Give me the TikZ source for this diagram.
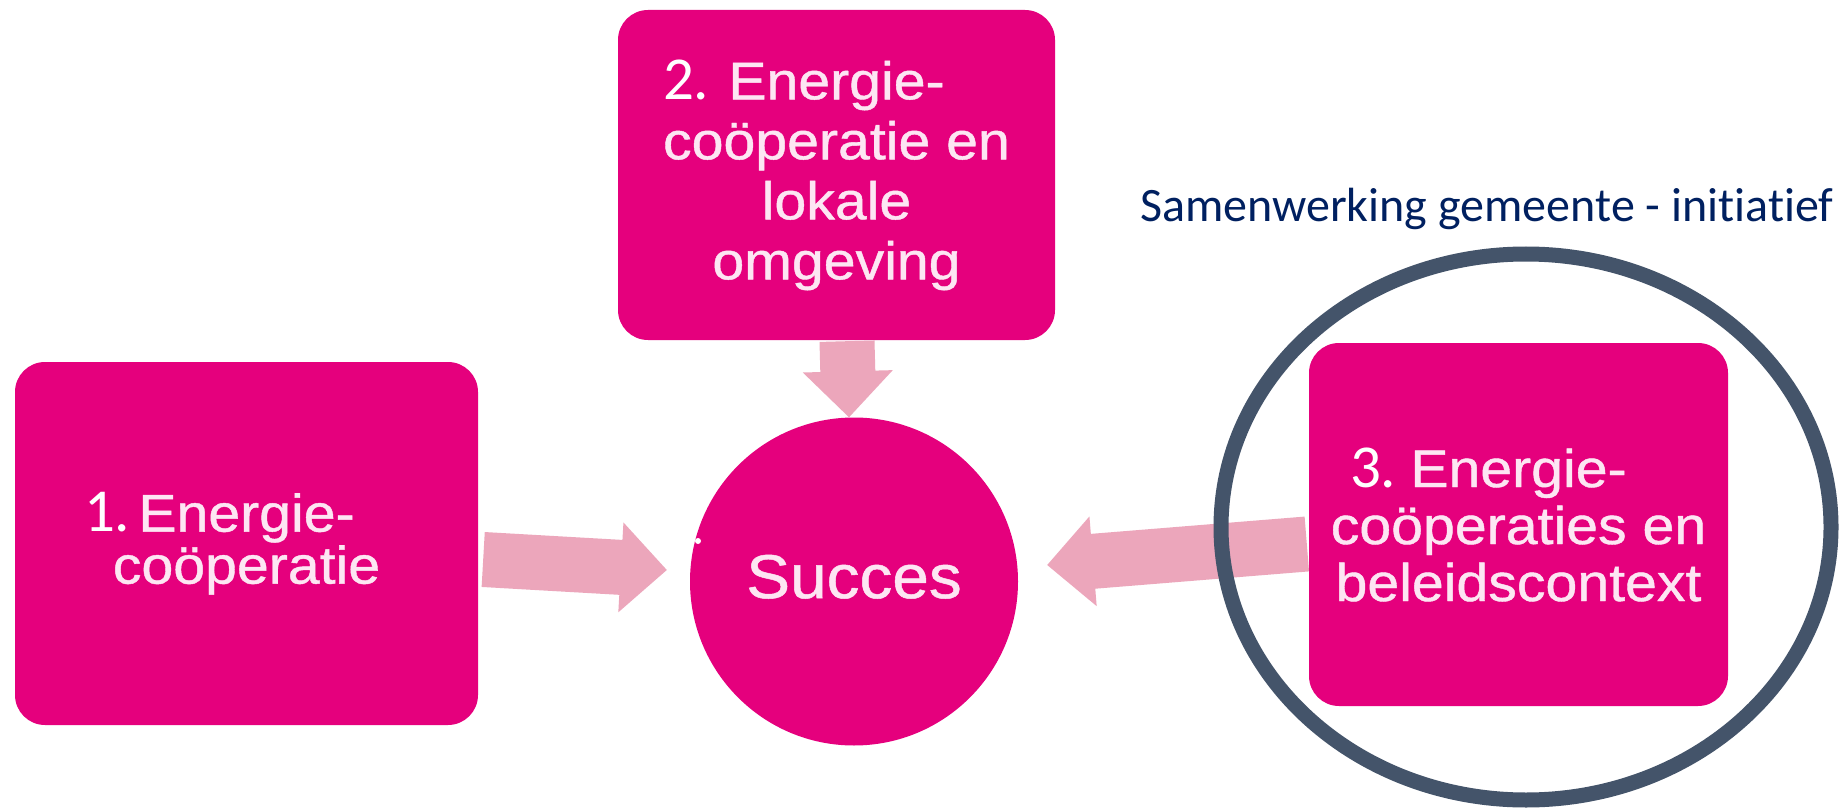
\documentclass[tikz,border=0pt]{standalone}
\usepackage{fontspec}
\usetikzlibrary{calc,shapes.geometric}
\newfontfamily\arialtxt[FakeStretch=1.08,FakeBold=0.8]{Liberation Sans}
\newfontfamily\arialsuc[FakeStretch=1.06,FakeBold=0.8]{Liberation Sans}
\newfontfamily\calib[Ligatures=NoCommon]{Carlito}
\definecolor{boxpink}{RGB}{229,0,125}
\definecolor{arrowpink}{RGB}{236,166,187}
\definecolor{txtpink}{RGB}{253,230,243}
\definecolor{ringgray}{RGB}{68,84,106}
\definecolor{navyblue}{RGB}{0,32,96}
\newcommand{\numlab}[2]{\llap{{\calib\fontsize{61}{50}\selectfont\color{white}#1}\hspace{#2}}}
\newcommand{\blockarrow}[2]{%
  \coordinate (#1h) at ($(#2)!46pt!(#1)$);
  \fill[arrowpink] ($(#1)!27.5pt!90:(#2)$) -- ($(#1h)!27.5pt!90:(#2)$) -- ($(#1h)!45pt!90:(#2)$) -- (#2)
    -- ($(#1h)!45pt!-90:(#2)$) -- ($(#1h)!27.5pt!-90:(#2)$) -- ($(#1)!27.5pt!-90:(#2)$) -- cycle;}
\begin{document}
\begin{tikzpicture}[x=1pt,y=-1pt,
  boxnode/.style={fill=boxpink, rounded corners=30pt, inner sep=0pt, text=txtpink, align=center},
  ringnode/.style={ellipse, draw=ringgray, line width=15pt, inner sep=0pt}]
\fill[white] (0,0) rectangle (1842,810);
\useasboundingbox (0,0) rectangle (1842,810);

\node[boxnode, minimum width=463pt, minimum height=363pt, font=\arialtxt\fontsize{53}{52}\selectfont] (b1) at (246.5,543.5)
  {\numlab{1.}{8pt}Energie-\\coöperatie};
\node[boxnode, minimum width=437pt, minimum height=330pt, font=\arialtxt\fontsize{53}{60}\selectfont] (b2) at (836.5,175)
  {\numlab{2.}{19pt}Energie-\\coöperatie en\\lokale\\omgeving};
\node[boxnode, minimum width=419pt, minimum height=363pt, font=\arialtxt\fontsize{53}{57}\selectfont] (b3) at (1518.5,524.5)
  {\numlab{3.}{14pt}Energie-\\coöperaties en\\beleidscontext};
\node[circle, fill=boxpink, minimum size=328pt, inner sep=0pt, text=txtpink, text depth=10pt,
  font=\arialsuc\fontsize{62}{62}\selectfont] (suc) at (854,581.5) {Succes};

\coordinate (a1s) at ($(b1.east)+(5,16)$);
\coordinate (a1e) at ($(suc.west)+(-23,-11.5)$);
\coordinate (a2s) at ($(b2.south)+(10.5,1)$);
\coordinate (a2e) at ($(suc.north)+(-5,0)$);
\coordinate (a3s) at ($(b3.west)+(-2,19.5)$);
\coordinate (a3e) at ($(suc.east)+(29,-16.5)$);
\blockarrow{a1s}{a1e}
\blockarrow{a2s}{a2e}
\blockarrow{a3s}{a3e}

\node[ringnode, minimum width=610pt, minimum height=546pt] (ring) at (1526,527) {};

\node[anchor=base west, inner sep=0pt, text=navyblue, font=\calib\fontsize{48}{48}\selectfont] (lab) at (1140,221.5)
  {Samenwerking gemeente - initiatief};

\fill[white] (698,541) circle (3);
\end{tikzpicture}
\end{document}
